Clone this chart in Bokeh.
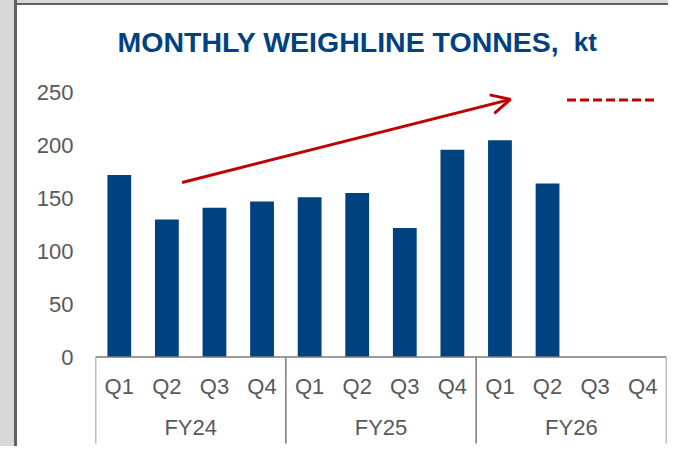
from bokeh.plotting import figure
from bokeh.models import FactorRange, Range1d, FixedTicker, Arrow, OpenHead
from bokeh.core.properties import value
from bokeh.embed import file_html
from bokeh.resources import INLINE

# ---- data ----
fiscal_years = ["FY24", "FY25", "FY26"]
quarters = ["Q1", "Q2", "Q3", "Q4"]
tonnes = [172, 130, 141, 147, 151, 155, 122, 196, 205, 164, None, None]
y_ticks = [0, 50, 100, 150, 200, 250]
title_main = "MONTHLY WEIGHLINE TONNES,"
title_unit = "kt"
# trend arrow (start, end) and target dashed line, in chart coordinates
trend_x = [1.82, 8.72]
trend_y = [165, 243.5]
target_x = [9.91, 11.8]
target_y = [243, 243]

factors = [(fy, q) for fy in fiscal_years for q in quarters]
bar_factors = [f for f, v in zip(factors, tonnes) if v is not None]
bar_values = [v for v in tonnes if v is not None]

BLUE = "#00427f"
RED = "#c00000"
GREY = "#595959"
FONT = "Liberation Sans"

p = figure(width=668, height=446,
           x_range=FactorRange(*factors, factor_padding=0, group_padding=0,
                               subgroup_padding=0, range_padding=0),
           y_range=Range1d(-84.6, 337.0),
           x_axis_location=None,
           min_border_left=95, min_border_right=2,
           min_border_top=0, min_border_bottom=0,
           output_backend="svg", toolbar_location=None)
p.outline_line_color = None
p.xgrid.grid_line_color = None
p.ygrid.grid_line_color = None
p.border_fill_color = None
p.background_fill_color = None
p.styles = {"background":
            "linear-gradient(to right, #d9d9d9 0px, #d9d9d9 14px, #606060 14px, #606060 17px, transparent 17px), "
            "linear-gradient(to bottom, #d9d9d9 0px, #d9d9d9 3px, #606060 3px, #606060 5px, #ffffff 5px)"}

# y axis
ax = p.yaxis[0]
ax.ticker = FixedTicker(ticks=y_ticks)
ax.axis_line_color = None
ax.major_tick_line_color = None
ax.minor_tick_line_color = None
ax.major_tick_out = 0
ax.major_tick_in = 0
ax.major_label_standoff = 22
ax.major_label_text_font = FONT
ax.major_label_text_font_size = "22px"
ax.major_label_text_color = GREY

# bars
p.vbar(x=bar_factors, top=bar_values, bottom=0, width=0.5,
       fill_color=BLUE, line_color=None)

# category axis (drawn): baseline, separators, labels
n = len(factors)
p.segment(x0=[0], y0=[0], x1=[n], y1=[0], line_color="#7a7a7a", line_width=1.5)
seps = [i * len(quarters) for i in range(len(fiscal_years) + 1)]
p.segment(x0=seps, y0=[0] * len(seps), x1=seps, y1=[-81.8] * len(seps),
          line_color="#7a7a7a", line_width=1.5)
p.text(x=factors, y=[-27.9] * n, text=[q for _, q in factors],
       text_font=value(FONT), text_font_size="22px", text_color=GREY,
       text_align="center", text_baseline="middle")
p.text(x=fiscal_years, y=[-67.1] * len(fiscal_years), text=fiscal_years,
       text_font=value(FONT), text_font_size="22px", text_color=GREY,
       text_align="center", text_baseline="middle")

# title
p.text(x=[0.462], y=[298], text=[title_main], text_font=value(FONT),
       text_font_style="bold", text_font_size="28.5px", text_color=BLUE,
       text_align="left", text_baseline="alphabetic")
p.text(x=[10.05], y=[298], text=[title_unit], text_font=value(FONT),
       text_font_style="bold", text_font_size="26px", text_color=BLUE,
       text_align="left", text_baseline="alphabetic")

# trend arrow and target line
p.add_layout(Arrow(x_start=trend_x[0], y_start=trend_y[0],
                   x_end=trend_x[1], y_end=trend_y[1],
                   line_color=RED, line_width=3,
                   end=OpenHead(size=19, line_color=RED, line_width=3)))
p.line(x=target_x, y=target_y, line_color=RED, line_width=3, line_dash="9 4")

open("out.html", "w").write(file_html(p, INLINE))
